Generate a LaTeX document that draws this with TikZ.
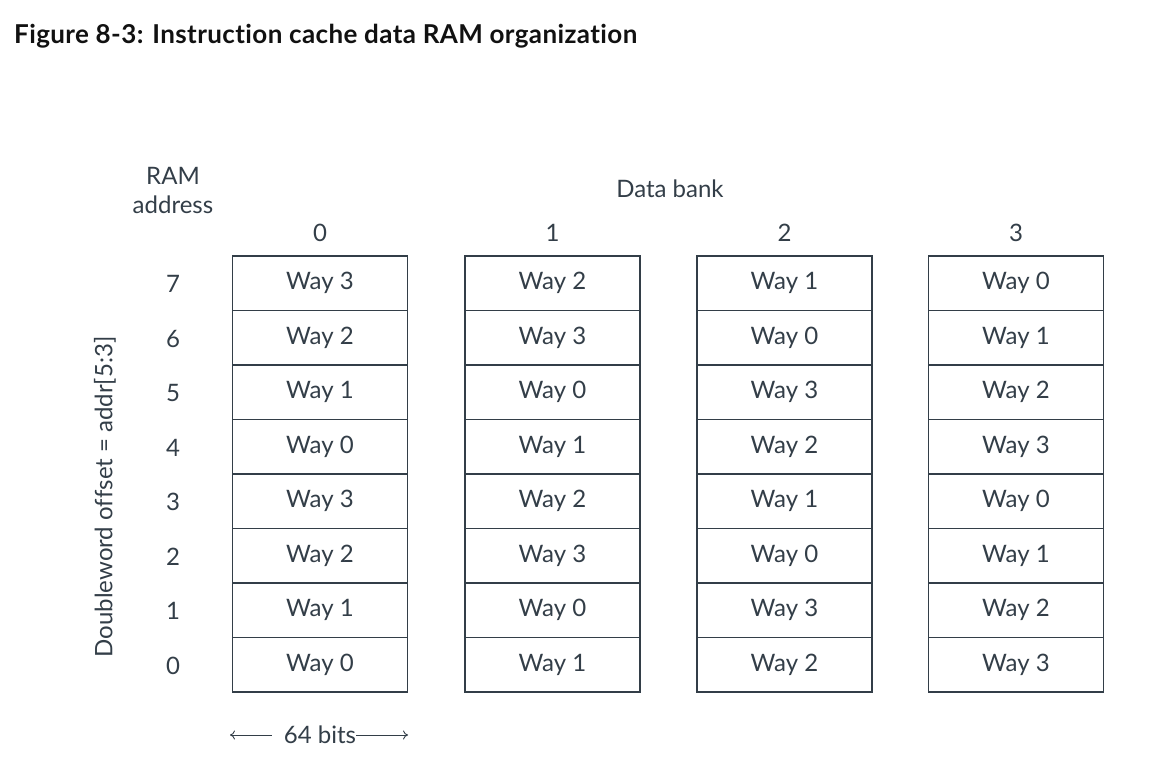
\documentclass[tikz,border=0pt]{standalone}
\usepackage{fontspec}
\setmainfont{Lato}[Ligatures=NoCommon]
\newfontfamily\titlefont{Lato}[Ligatures=NoCommon, LetterSpace=1.5, BoldFont={* Bold}]
\usetikzlibrary{arrows.meta}
\definecolor{ink}{HTML}{333E48}
\definecolor{titleink}{HTML}{111111}
\begin{document}
\begin{tikzpicture}[x=1pt,y=-1pt,
  cell/.style={draw=ink, line width=1.8pt, minimum width=175pt, minimum height=54.5pt,
    inner sep=0pt, text=ink, font=\fontsize{24}{28}\selectfont},
  lbl/.style={text=ink, font=\fontsize{24}{29}\selectfont, inner sep=0pt},
  arr/.style={draw=ink, line width=0.9pt, -{To[length=5pt,width=9pt]}}]
\useasboundingbox (0,0) rectangle (1149,768);
\fill[white] (0,0) rectangle (1149,768);
% title
\node[anchor=base west, text=titleink, inner sep=0pt, font=\titlefont\bfseries\fontsize{26}{30}\selectfont] (title) at (14,44) {Figure 8-3: Instruction cache data RAM organization};
% headings
\node[lbl, align=center] (ramaddr) at (173,190) {RAM\\address};
\node[lbl] (databank) at (670,189) {Data bank};
\foreach \b/\x in {0/320,1/552.5,2/784.5,3/1016}{
  \node[lbl] (bank\b) at (\x,233) {\b};
}
% cells
\foreach \b/\x/\ways in {0/320/{3,2,1,0,3,2,1,0},1/552.5/{2,3,0,1,2,3,0,1},2/784.5/{1,0,3,2,1,0,3,2},3/1016/{0,1,2,3,0,1,2,3}}{
  \foreach \w [count=\i from 0] in \ways {
    \pgfmathtruncatemacro{\r}{7-\i}
    \node[cell] (c-\b-\r) at (\x,{256+54.5*(\i+0.5)}) {Way \w};
  }
}
% row numbers
\foreach \r in {0,...,7}{
  \node[lbl] (row\r) at (173,{257+54.5*(7-\r+0.5)}) {\r};
}
% rotated label
\node[lbl, rotate=90] (offset) at (105,497) {Doubleword offset = addr[5:3]};
% 64 bits
\node[lbl] (bits) at (320,735) {64 bits};
\coordinate (bl) at (230,735);
\coordinate (br) at (408,735);
\draw[arr] ([xshift=-12pt]bits.west) -- (bl);
\draw[arr] (bits.east) -- (br);
\end{tikzpicture}
\end{document}
